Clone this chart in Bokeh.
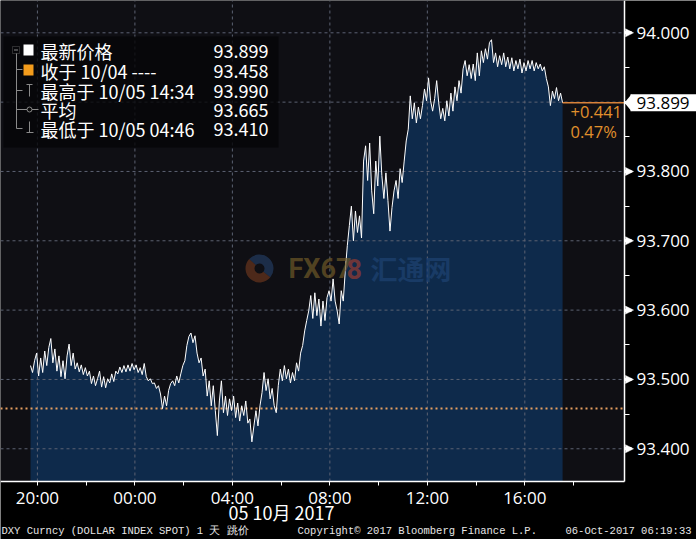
import numpy as np
from bokeh.plotting import figure
from bokeh.models import FixedTicker, Label, BoxAnnotation, NumeralTickFormatter
from bokeh.embed import file_html
from bokeh.resources import INLINE

# ---------------- data ----------------
start_hour = -4.0 - 17 / 60.0      # 19:43 on 10/04, hours relative to 00:00 on 10/05
step_minutes = 5
prices = [
    93.520, 93.510, 93.527, 93.538, 93.505, 93.531, 93.510, 93.541, 93.520, 93.546,
    93.559, 93.524, 93.544, 93.512, 93.534, 93.504, 93.527, 93.501, 93.534, 93.551,
    93.520, 93.538, 93.515, 93.524, 93.511, 93.521, 93.507, 93.517, 93.505, 93.512,
    93.494, 93.505, 93.491, 93.501, 93.512, 93.489, 93.504, 93.488, 93.501, 93.495,
    93.508, 93.497, 93.512, 93.508, 93.518, 93.510, 93.520, 93.511, 93.521, 93.512,
    93.523, 93.514, 93.521, 93.510, 93.517, 93.507, 93.523, 93.504, 93.498, 93.501,
    93.494, 93.495, 93.487, 93.491, 93.479, 93.458, 93.476, 93.462, 93.484, 93.494,
    93.498, 93.491, 93.505, 93.495, 93.508, 93.520, 93.527, 93.549, 93.562, 93.567,
    93.553, 93.563, 93.538, 93.524, 93.531, 93.505, 93.515, 93.476, 93.498, 93.462,
    93.491, 93.455, 93.419, 93.469, 93.498, 93.452, 93.476, 93.448, 93.472, 93.455,
    93.476, 93.445, 93.466, 93.440, 93.462, 93.448, 93.469, 93.437, 93.443, 93.410,
    93.433, 93.455, 93.433, 93.462, 93.481, 93.510, 93.484, 93.501, 93.472, 93.487,
    93.462, 93.452, 93.491, 93.515, 93.498, 93.520, 93.501, 93.515, 93.495, 93.510,
    93.498, 93.524, 93.512, 93.538, 93.549, 93.570, 93.585, 93.599, 93.621, 93.588,
    93.625, 93.592, 93.616, 93.577, 93.613, 93.585, 93.618, 93.628, 93.613, 93.645,
    93.613, 93.599, 93.580, 93.628, 93.613, 93.657, 93.693, 93.722, 93.750, 93.700,
    93.743, 93.712, 93.736, 93.704, 93.815, 93.837, 93.787, 93.841, 93.772, 93.739,
    93.815, 93.779, 93.851, 93.794, 93.761, 93.798, 93.758, 93.714, 93.748, 93.772,
    93.787, 93.761, 93.804, 93.784, 93.815, 93.844, 93.861, 93.909, 93.876, 93.899,
    93.870, 93.893, 93.876, 93.895, 93.919, 93.902, 93.935, 93.902, 93.887, 93.905,
    93.931, 93.899, 93.876, 93.891, 93.873, 93.902, 93.880, 93.913, 93.887, 93.922,
    93.902, 93.931, 93.913, 93.948, 93.960, 93.938, 93.954, 93.934, 93.955, 93.931,
    93.971, 93.938, 93.974, 93.957, 93.977, 93.962, 93.986, 93.990, 93.957, 93.971,
    93.951, 93.967, 93.954, 93.971, 93.951, 93.965, 93.948, 93.964, 93.945, 93.960,
    93.948, 93.962, 93.942, 93.957, 93.945, 93.960, 93.948, 93.960, 93.945, 93.957,
    93.948, 93.955, 93.945, 93.951, 93.934, 93.922, 93.895, 93.916, 93.905, 93.921,
    93.902, 93.913, 93.899,
]
prev_close = 93.458
change_text = "+0.441"
change_pct_text = "0.47%"

x_ticks = [-4, 0, 4, 8, 12, 16]
x_tick_labels = ["20:00", "00:00", "04:00", "08:00", "12:00", "16:00"]
x_minor_ticks = [-2, 2, 6, 10, 14, 18]
y_ticks = [93.4, 93.5, 93.6, 93.7, 93.8, 93.9, 94.0]
y_minor_ticks = [93.45, 93.55, 93.65, 93.75, 93.85, 93.95]

legend_names = ["最新价格", "收于 10/04 ----", "最高于 10/05 14:34", "平均", "最低于 10/05 04:46"]
legend_values = ["93.899", "93.458", "93.990", "93.665", "93.410"]

date_label = "05 10月 2017"
footer_left = "DXY Curncy (DOLLAR INDEX SPOT) 1 天  跳价"
footer_mid = "Copyright© 2017 Bloomberg Finance L.P."
footer_right = "06-Oct-2017 06:19:33"

# ---------------- layout (canvas pixels -> data) ----------------
W, H = 696, 539
PX_PER_HOUR, ZERO_HOUR_PX = 24.37, 134.4
PX_PER_UNIT, Y94_PX = 693.3, 32.3
AXIS_X_PX, AXIS_Y_PX = 624, 481


def X(px):
    return (px - ZERO_HOUR_PX) / PX_PER_HOUR


def Y(py):
    return 94.0 - (py - Y94_PX) / PX_PER_UNIT


def DY(dpx):
    return dpx / PX_PER_UNIT


hours = start_hour + np.arange(len(prices)) * step_minutes / 60.0
last_price = prices[-1]

p = figure(frame_width=W, frame_height=H, x_range=(X(0), X(W)), y_range=(Y(H), Y(0)),
           y_axis_location="right", toolbar_location=None, output_backend="svg",
           min_border=0, min_border_left=0, min_border_right=0,
           min_border_top=0, min_border_bottom=0)
p.background_fill_color = "black"
p.border_fill_color = "black"
p.outline_line_color = None
p.grid.visible = False

# plot area background
p.add_layout(BoxAnnotation(left=X(0), right=X(AXIS_X_PX), top=Y(0), bottom=Y(AXIS_Y_PX),
                           fill_color="#0f0f14", fill_alpha=1, line_color=None, level="underlay"))

# x axis (drawn at the plot bottom edge)
xa = p.xaxis[0]
xa.fixed_location = Y(AXIS_Y_PX)
xa.bounds = (X(0), X(AXIS_X_PX))
xa.ticker = FixedTicker(ticks=x_ticks, minor_ticks=x_minor_ticks)
xa.major_label_overrides = {t: s for t, s in zip(x_ticks, x_tick_labels)}
xa.axis_line_color = "white"
xa.axis_line_width = 1.5
xa.major_tick_line_color = "white"
xa.minor_tick_line_color = "white"
xa.major_tick_out = 4
xa.major_tick_in = 0
xa.minor_tick_out = 4
xa.minor_tick_in = 0
xa.major_label_standoff = 0
xa.major_label_text_color = "white"
xa.major_label_text_font = "Open Sans"
xa.major_label_text_font_size = "17px"

# y axis (drawn at the plot right edge)
ya = p.yaxis[0]
ya.fixed_location = X(AXIS_X_PX)
ya.bounds = (Y(AXIS_Y_PX), Y(0))
ya.ticker = FixedTicker(ticks=y_ticks, minor_ticks=y_minor_ticks)
ya.formatter = NumeralTickFormatter(format="0.000")
ya.major_label_overrides = {93.9: ""}
ya.axis_line_color = "white"
ya.axis_line_width = 1.5
ya.major_tick_line_color = "white"
ya.major_tick_line_width = 3
ya.major_tick_out = 7
ya.major_tick_in = 0
ya.minor_tick_line_color = "white"
ya.minor_tick_out = 5
ya.minor_tick_in = 0
ya.major_label_standoff = 5
ya.major_label_text_color = "white"
ya.major_label_text_font = "Open Sans"
ya.major_label_text_font_size = "17px"

# series area
p.varea(x=hours, y1=Y(AXIS_Y_PX), y2=prices, fill_color="#0e2a4b")

# grid lines
grid_col = "#5c6272"
p.segment(x0=x_ticks, y0=[Y(AXIS_Y_PX)] * len(x_ticks), x1=x_ticks, y1=[Y(0)] * len(x_ticks),
          line_color=grid_col, line_width=1, line_dash="3 3")
p.segment(x0=[X(0)] * len(y_ticks), y0=y_ticks, x1=[X(AXIS_X_PX)] * len(y_ticks), y1=y_ticks,
          line_color=grid_col, line_width=1, line_dash="3 3")

# previous close, price line, last price
p.segment(x0=[X(0)], y0=[prev_close], x1=[X(AXIS_X_PX)], y1=[prev_close],
          line_color="#e8a060", line_width=2, line_dash="2 3")
p.line(hours, prices, line_color="white", line_width=1)
p.segment(x0=[hours[-1]], y0=[last_price], x1=[X(AXIS_X_PX)], y1=[last_price],
          line_color="#d8823a", line_width=1.5)

# right-axis tick triangles (at the major ticks, the last-price tick excluded)
tri_ticks = [t for t in y_ticks if abs(t - 93.9) > 1e-9]
tri_x = X(AXIS_X_PX + 1)
p.patches(xs=[[tri_x, X(AXIS_X_PX + 9), tri_x] for _ in tri_ticks],
          ys=[[t + DY(4), t, t - DY(4)] for t in tri_ticks],
          fill_color="white", line_color="white", line_width=0.5, level="overlay")

# last price tag
p.add_layout(BoxAnnotation(left=X(630), right=X(W), top=last_price + DY(8.5),
                           bottom=last_price - DY(8.5), fill_color="white", fill_alpha=1,
                           line_color=None))
p.patch(x=[X(AXIS_X_PX), X(631), X(631)],
        y=[last_price, last_price + DY(8.5), last_price - DY(8.5)],
        fill_color="white", line_color=None, level="overlay")
p.add_layout(Label(x=X(636), y=last_price, text=f"{last_price:.3f}", text_color="black",
                   text_font="Open Sans", text_font_size="17px",
                   text_align="left", text_baseline="middle"))
p.add_layout(Label(x=X(570), y=Y(111), text=change_text, text_color="#e0902c",
                   text_font="Open Sans", text_font_size="16.5px",
                   text_align="left", text_baseline="middle"))
p.add_layout(Label(x=X(570), y=Y(131), text=change_pct_text, text_color="#e0902c",
                   text_font="Open Sans", text_font_size="16.5px",
                   text_align="left", text_baseline="middle"))

# watermark
p.annular_wedge(x=[X(259)], y=[Y(268)], inner_radius=5, outer_radius=14,
                inner_radius_units="screen", outer_radius_units="screen",
                start_angle=[2.4], end_angle=[5.6], fill_color="#9a4a22",
                fill_alpha=0.45, line_color=None)
p.annular_wedge(x=[X(259)], y=[Y(268)], inner_radius=5, outer_radius=14,
                inner_radius_units="screen", outer_radius_units="screen",
                start_angle=[5.6], end_angle=[2.4 + 2 * np.pi], fill_color="#2a4c7c",
                fill_alpha=0.5, line_color=None)
p.add_layout(Label(x=X(288), y=Y(268), text="FX67", text_color="#6f5a28",
                   text_font="Roboto", text_font_style="bold", text_font_size="27px",
                   text_align="left", text_baseline="middle", text_alpha=0.7))
p.add_layout(Label(x=X(346), y=Y(268), text="8", text_color="#8e3a34",
                   text_font="Roboto", text_font_style="bold", text_font_size="27px",
                   text_align="left", text_baseline="middle", text_alpha=0.75))
p.add_layout(Label(x=X(370), y=Y(268), text="汇通网", text_color="#1d416f",
                   text_font="Noto Sans CJK SC", text_font_style="bold", text_font_size="27px",
                   text_align="left", text_baseline="middle", text_alpha=0.75))

# legend box
p.add_layout(BoxAnnotation(left=X(3), right=X(278), top=Y(36), bottom=Y(147),
                           fill_color="#060608", fill_alpha=0.82, line_color=None))
grey = "#8a8a8a"
p.add_layout(BoxAnnotation(left=X(12), right=X(19), top=Y(46), bottom=Y(53),
                           fill_alpha=0, line_color=grey, line_width=1, level="overlay"))
tree_xs = [[X(16), X(16), X(22)], [X(16), X(22)], [X(16), X(22)], [X(26), X(32)],
           [X(29), X(29)], [X(16), X(38)], [X(29), X(29)], [X(26), X(33)], [X(13.5), X(17.5)]]
tree_ys = [[Y(53), Y(128), Y(128)], [Y(69), Y(69)], [Y(90), Y(90)], [Y(84), Y(84)],
           [Y(84), Y(96)], [Y(109), Y(109)], [Y(121), Y(132)], [Y(132), Y(132)], [Y(49.5), Y(49.5)]]
p.multi_line(xs=tree_xs, ys=tree_ys, line_color=grey, line_width=1, level="overlay")
p.scatter(x=[X(29)], y=[Y(109)], marker="circle", size=5, fill_color="#0a0a0a",
          line_color=grey, level="overlay")
p.add_layout(BoxAnnotation(left=X(23), right=X(33), top=Y(44), bottom=Y(55),
                           fill_color="white", fill_alpha=1, line_color=None, level="overlay"))
p.add_layout(BoxAnnotation(left=X(23), right=X(33), top=Y(64), bottom=Y(75),
                           fill_color="#f39c1c", fill_alpha=1, line_color=None, level="overlay"))
row_y = [50, 70, 90, 109, 128]
for name, val, ry in zip(legend_names, legend_values, row_y):
    p.add_layout(Label(x=X(40), y=Y(ry), text=name, text_color="white",
                       text_font="Noto Sans CJK SC", text_font_size="18px",
                       text_align="left", text_baseline="middle", level="overlay"))
    p.add_layout(Label(x=X(268), y=Y(ry), text=val, text_color="white",
                       text_font="Noto Sans CJK SC", text_font_size="18px",
                       text_align="right", text_baseline="middle", level="overlay"))

# bottom texts
p.add_layout(Label(x=X(281), y=Y(511), text=date_label, text_color="white",
                   text_font="Noto Sans CJK SC", text_font_size="18px",
                   text_align="center", text_baseline="middle"))
foot_col = "#e6e6e6"
p.add_layout(Label(x=X(1), y=Y(530), text=footer_left, text_color=foot_col,
                   text_font="Liberation Mono", text_font_size="10.5px",
                   text_align="left", text_baseline="middle"))
p.add_layout(Label(x=X(297), y=Y(530), text=footer_mid, text_color=foot_col,
                   text_font="Liberation Mono", text_font_size="10.5px",
                   text_align="left", text_baseline="middle"))
p.add_layout(Label(x=X(691), y=Y(530), text=footer_right, text_color=foot_col,
                   text_font="Liberation Mono", text_font_size="10.5px",
                   text_align="right", text_baseline="middle"))

open("out.html", "w").write(file_html(p, INLINE))
